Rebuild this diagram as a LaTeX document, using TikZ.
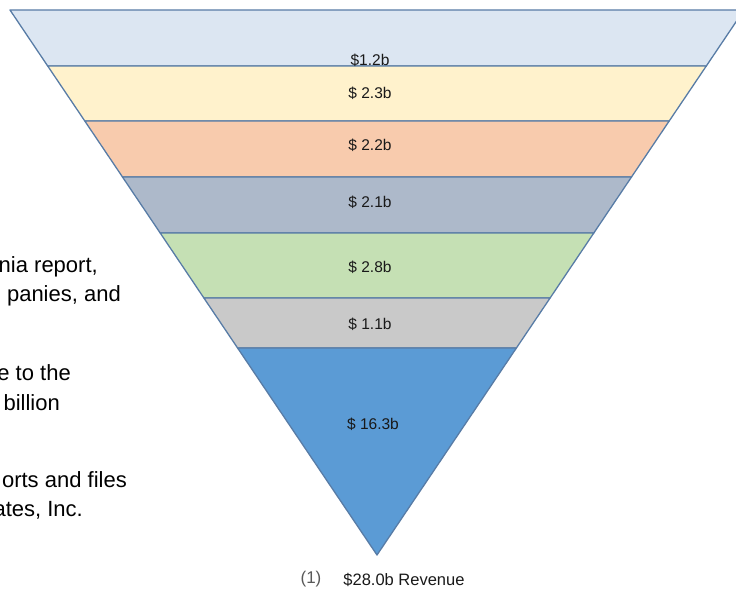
\documentclass[tikz,border=0pt]{standalone}
\usepackage{fontspec}
\setmainfont{Liberation Sans}
\definecolor{edgeblue}{RGB}{88,124,166}
\definecolor{bandA}{RGB}{220,230,242}
\definecolor{bandB}{RGB}{255,242,204}
\definecolor{bandC}{RGB}{248,203,173}
\definecolor{bandD}{RGB}{173,185,202}
\definecolor{bandE}{RGB}{197,224,180}
\definecolor{bandF}{RGB}{201,201,201}
\definecolor{bandG}{RGB}{91,155,213}
\tikzset{band/.style={draw=edgeblue,line width=1.3pt,line join=round},
  amount/.style={text=black!90,font=\fontsize{15.5}{17}\selectfont,inner sep=0pt},
  note/.style={anchor=base east,font=\fontsize{22}{26}\selectfont,inner sep=0pt}}
\begin{document}
\begin{tikzpicture}[x=1pt,y=-1pt]
\useasboundingbox (0,0) rectangle (736,591);
\clip (0,0) rectangle (736,591);
% funnel, top to bottom
\draw[band,fill=bandA] (10,10) -- (744,10) -- (706.3,66) -- (47.7,66) -- cycle;
\draw[band,fill=bandB] (47.7,66) -- (706.3,66) -- (669.2,121) -- (84.8,121) -- cycle;
\draw[band,fill=bandC] (84.8,121) -- (669.2,121) -- (631.5,177) -- (122.5,177) -- cycle;
\draw[band,fill=bandD] (122.5,177) -- (631.5,177) -- (593.8,233) -- (160.2,233) -- cycle;
\draw[band,fill=bandE] (160.2,233) -- (593.8,233) -- (550.1,298) -- (203.9,298) -- cycle;
\draw[band,fill=bandF] (203.9,298) -- (550.1,298) -- (516.4,348) -- (237.6,348) -- cycle;
\draw[band,fill=bandG] (237.6,348) -- (516.4,348) -- (377,555) -- cycle;
\node[amount] (v1) at (370,60) {\$1.2b};
\node[amount] (v2) at (370,93) {\$ 2.3b};
\node[amount] (v3) at (370,145) {\$ 2.2b};
\node[amount] (v4) at (370,202) {\$ 2.1b};
\node[amount] (v5) at (370,267) {\$ 2.8b};
\node[amount] (v6) at (370,324) {\$ 1.1b};
\node[amount] (v7) at (373,424) {\$ 16.3b};
% text cut at the left edge
\node[note] (n1) at (98,272) {nia report,};
\node[note] (n2) at (121,301) {panies, and};
\node[note] (n3) at (71,380) {e to the};
\node[note] (n4) at (60,410) {billion};
\node[note] (n5) at (127,487) {orts and files};
\node[note] (n6) at (83,516) {ates, Inc.};
% total
\node[font=\fontsize{17}{20}\selectfont,text=black!65,inner sep=0pt] (fn) at (311,579) {(1)};
\node[amount,font=\fontsize{16.5}{19}\selectfont] (rev) at (404,580) {\$28.0b Revenue};
\end{tikzpicture}
\end{document}
